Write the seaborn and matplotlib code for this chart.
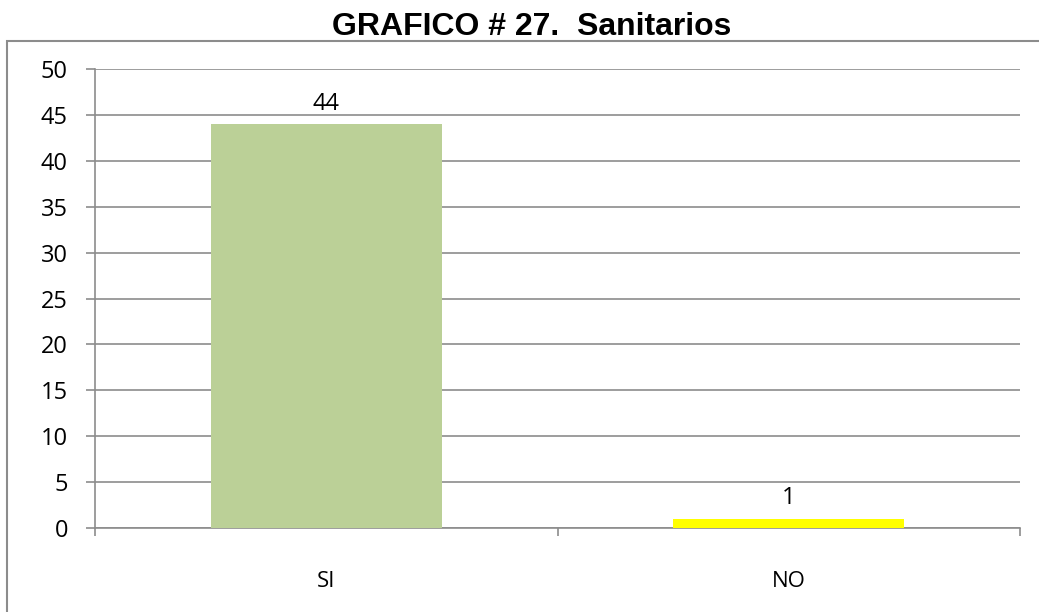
import matplotlib.pyplot as plt
import matplotlib.patches as mpatches
import pandas as pd
import seaborn as sns

categories = ['SI', 'NO']
values = [44, 1]
colors = ['#BBD097', '#FFFF00']
title = 'GRAFICO # 27.  Sanitarios'

df = pd.DataFrame({'respuesta': categories, 'total': values})

sns.set_style('white')
plt.rcParams['font.family'] = ['Open Sans', 'DejaVu Sans']
plt.rcParams['text.color'] = 'black'
plt.rcParams['xtick.color'] = 'black'
plt.rcParams['ytick.color'] = 'black'
grey = '#8C8C8C'

fig = plt.figure(figsize=(10.39, 6.12), dpi=100)
ax = fig.add_axes([95 / 1039, 1 - 528 / 612, (1020 - 95) / 1039, (528 - 69) / 612])

sns.barplot(data=df, x='respuesta', y='total', hue='respuesta', palette=colors,
            legend=False, width=0.5, saturation=1, ax=ax, zorder=3,
            edgecolor='none', linewidth=0)

ax.set_ylim(0, 50)
ax.set_yticks(range(0, 51, 5))
ax.set_xlim(-0.5, 1.5)
ax.yaxis.grid(True, color=grey, linewidth=1.2, zorder=0)
ax.set_axisbelow(True)
ax.set_xlabel('')
ax.set_ylabel('')

for side in ['top', 'right']:
    ax.spines[side].set_visible(False)
for side in ['left', 'bottom']:
    ax.spines[side].set_color(grey)
    ax.spines[side].set_linewidth(1.2)

# category boundary ticks like Excel
ax.set_xticks([-0.5, 0.5, 1.5], minor=True)
ax.tick_params(axis='x', which='minor', bottom=True, length=5.5, color=grey, width=1.2)
ax.tick_params(axis='x', which='major', bottom=False, length=0, pad=31, labelsize=16)
ax.tick_params(axis='y', left=True, length=6.5, color=grey, width=1.2, labelsize=17, pad=13)

for i, v in enumerate(values):
    ax.annotate(str(v), (i, v), xytext=(0, 6), textcoords='offset points',
                ha='center', va='bottom', fontsize=17)

fig.text(0.512, 1 - 27 / 612, title, ha='center', va='center',
         fontsize=23, fontweight='bold', family=['Liberation Sans', 'DejaVu Sans'])

frame = mpatches.Rectangle((7 / 1039, -0.05), 1.05, 1 - 41 / 612 + 0.05,
                           transform=fig.transFigure, fill=False,
                           edgecolor=grey, linewidth=1.5)
fig.patches.append(frame)

fig.savefig('out.png', dpi=100)
